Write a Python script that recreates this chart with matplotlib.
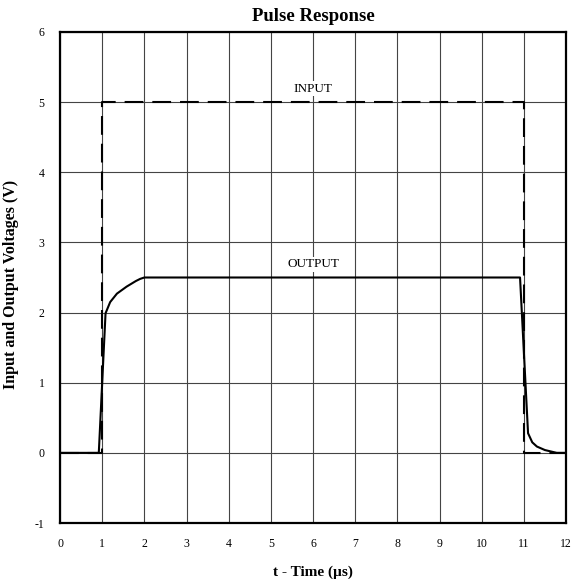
import matplotlib
matplotlib.use("Agg")
import matplotlib.pyplot as plt

plt.rcParams['font.family'] = ['Liberation Serif', 'DejaVu Serif']
plt.rcParams['axes.unicode_minus'] = False

# input pulse (dashed)
t_in = [0, 1, 1, 11, 11, 12]
v_in = [0, 0, 5, 5, 0, 0]

# output response (solid)
t_out = [0, 0.92, 1.08, 1.19, 1.35, 1.58, 1.8, 1.9, 2.0, 10.91, 11.1, 11.2, 11.31, 11.5, 11.78, 12]
v_out = [0, 0, 1.99, 2.15, 2.27, 2.37, 2.45, 2.48, 2.5, 2.5, 0.28, 0.15, 0.09, 0.04, 0.0, 0]

fig = plt.figure(figsize=(5.72, 5.79), dpi=100)
ax = fig.add_axes([60/572, 56/579, 506/572, 491/579])

ax.plot(t_in, v_in, color="black", lw=1.5, dashes=(9, 4.3), zorder=3)
ax.plot(t_out, v_out, color="black", lw=1.5, zorder=4)

ax.text(6, 5.19, "INPUT", ha="center", va="center", fontsize=9.5,
        bbox=dict(facecolor="white", edgecolor="none", pad=1), zorder=5)
ax.text(6, 2.69, "OUTPUT", ha="center", va="center", fontsize=9.5,
        bbox=dict(facecolor="white", edgecolor="none", pad=1), zorder=5)

ax.set_xlim(0, 12)
ax.set_ylim(-1, 6)
ax.set_xticks(range(0, 13))
ax.set_yticks(range(-1, 7))
ax.grid(True, color="#444444", lw=0.8)
ax.tick_params(length=0, labelsize=8.5, pad=11)
for s in ax.spines.values():
    s.set_linewidth(1.6)

ax.set_title("Pulse Response", fontsize=13.5, fontweight="bold", pad=8)
ax.set_xlabel("t - Time (µs)", fontsize=11, fontweight="bold", labelpad=11)
ax.set_ylabel("Input and Output Voltages (V)", fontsize=11.5, fontweight="bold")
ax.yaxis.set_label_coords(-0.082, 0.486)

fig.savefig("out.png", dpi=100)
